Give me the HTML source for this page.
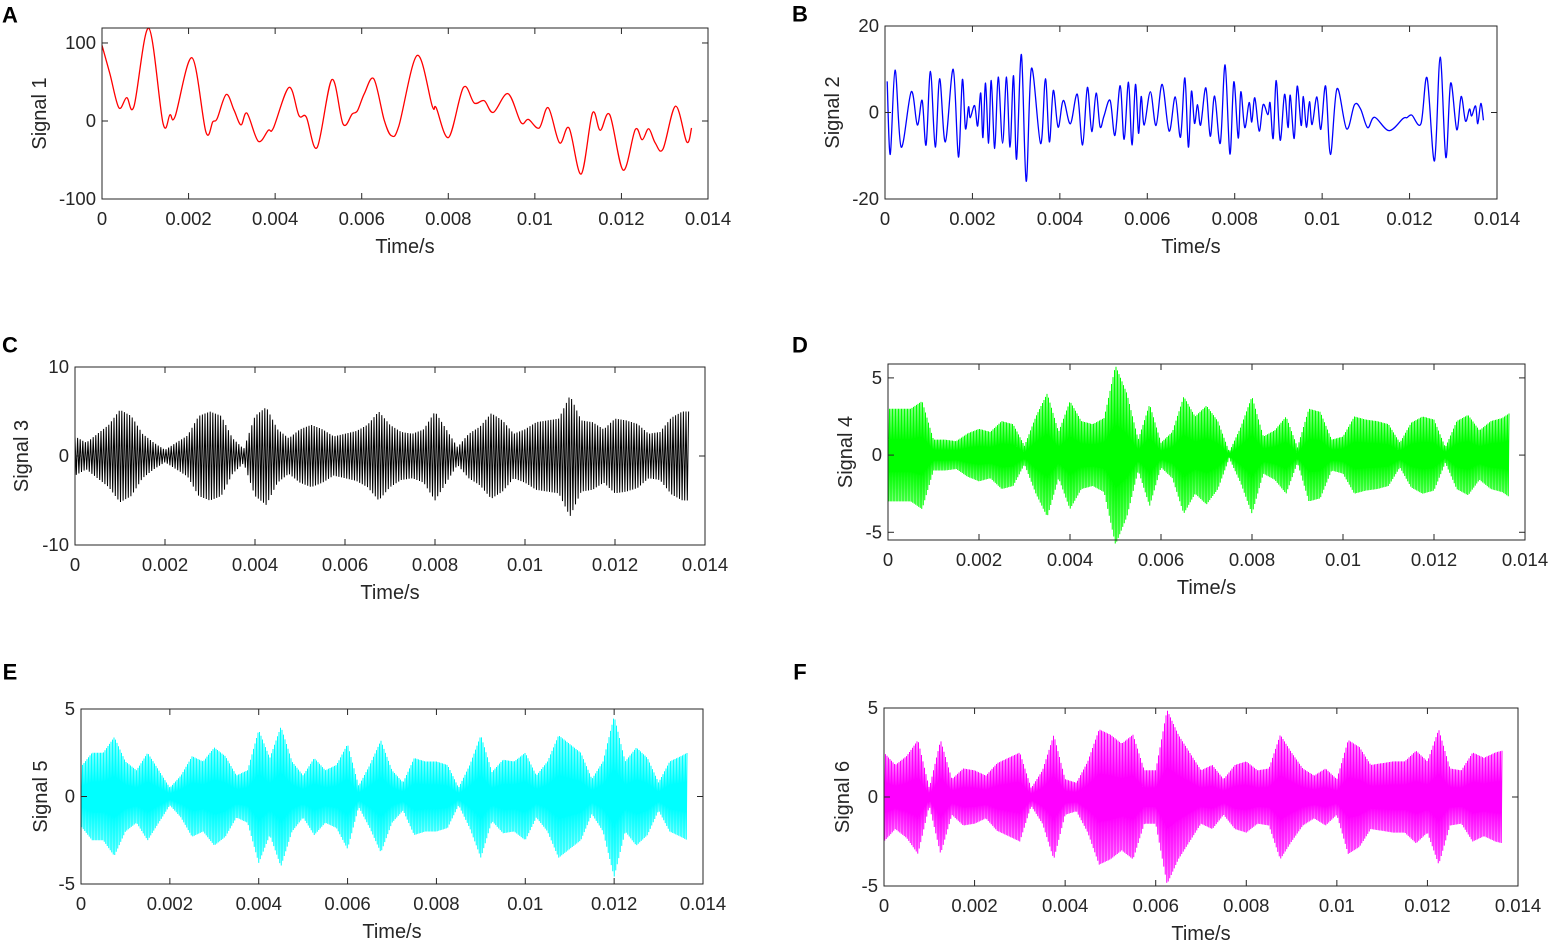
<!DOCTYPE html>
<html><head><meta charset="utf-8"><style>
body{margin:0;background:#fff;}
svg{display:block;font-family:"Liberation Sans",Arial,sans-serif;}
</style></head><body>
<svg id="fig" width="1549" height="942" viewBox="0 0 1549 942"></svg>
<script>
// ---- data (time in ms, value in signal units) ----
const s1T=[0,0.185,0.39,0.57,0.74,1.08,1.41,1.57,1.69,2.08,2.40,2.56,2.66,2.87,3.05,3.21,3.35,3.61,3.84,3.96,4.32,4.55,4.72,4.97,5.31,5.57,5.78,5.90,6.06,6.28,6.52,6.69,6.86,7.28,7.63,7.72,8.01,8.35,8.60,8.83,9.04,9.38,9.68,9.85,10.10,10.31,10.57,10.79,11.07,11.33,11.51,11.73,12.04,12.32,12.48,12.63,12.78,12.96,13.25,13.51,13.62];
const s1V=[97,60,17,30,19,119,-3,8,6,81,-14,-1,3,34,14,-5,10,-26,-12,-9,43,7,5,-34,53,-4,9,13,35,54,1,-19,-6,84,19,17,-21,43,23,26,11,35,-2,2,-9,17,-28,-9,-68,10,-12,8,-63,-11,-24,-10,-28,-36,19,-27,-9];
const s2T=[0.05,0.12,0.23,0.37,0.60,0.74,0.85,0.94,1.04,1.15,1.25,1.38,1.56,1.68,1.77,1.84,1.91,1.95,2.05,2.12,2.19,2.24,2.30,2.37,2.43,2.51,2.59,2.69,2.78,2.86,2.94,3.01,3.12,3.23,3.35,3.56,3.67,3.76,3.85,3.96,4.08,4.24,4.40,4.52,4.63,4.73,4.83,4.92,5.01,5.15,5.26,5.38,5.47,5.57,5.65,5.73,5.80,5.86,5.93,6.07,6.20,6.34,6.50,6.64,6.76,6.86,6.94,7.01,7.08,7.15,7.22,7.34,7.44,7.54,7.67,7.78,7.89,7.98,8.08,8.14,8.23,8.33,8.39,8.46,8.56,8.65,8.76,8.81,8.88,8.95,9.04,9.14,9.22,9.27,9.36,9.43,9.52,9.57,9.64,9.71,9.77,9.88,9.97,10.08,10.19,10.34,10.56,10.74,10.88,11.04,11.20,11.53,11.85,11.94,12.05,12.26,12.40,12.57,12.70,12.83,12.94,13.08,13.18,13.28,13.37,13.42,13.51,13.56,13.63,13.69];
const s2V=[7.2,-9.7,9.8,-8.0,4.8,-2.9,2.8,-7.5,9.5,-8.0,7.8,-6.8,10.0,-10.3,7.6,-3.7,1.3,-1.2,1.6,-3.1,4.5,-5.8,6.8,-7.1,7.4,-8.3,8.2,-7.1,8.2,-8.0,8.5,-10.8,13.4,-15.9,10.2,-7.2,7.8,-6.8,5.1,-3.4,2.8,-2.6,4.2,-7.5,5.8,-4.4,4.5,-3.3,-0.8,2.8,-5.3,6.2,-6.2,7.0,-7.5,6.5,-4.8,3.7,-2.9,4.8,-3.0,6.5,-4.3,3.6,-5.7,8.0,-8.0,4.9,-2.5,1.8,-2.9,5.7,-5.5,3.8,-7.1,11.0,-9.6,7.1,-5.9,4.8,-3.5,2.3,-2.2,3.4,-4.3,1.8,-0.5,2.2,-6.0,7.4,-6.4,4.2,-3.5,4.0,-6.0,6.1,-3.0,3.7,-3.4,2.5,-2.8,3.6,-3.9,6.1,-9.7,5.5,-3.8,1.8,0.8,-3.5,-1.1,-4.2,-1.4,-1.2,-0.6,-2.6,8.0,-11.2,12.8,-10.4,6.8,-4.0,3.7,-2.0,0.8,-0.8,1.5,-2.6,2.1,-1.8];
const envT=[0,0.25,0.5,0.75,1,1.25,1.5,1.75,2,2.25,2.5,2.75,3,3.25,3.5,3.75,4,4.25,4.5,4.75,5,5.25,5.5,5.75,6,6.25,6.5,6.75,7,7.25,7.5,7.75,8,8.25,8.5,8.75,9,9.25,9.5,9.75,10,10.25,10.5,10.75,11,11.25,11.5,11.75,12,12.25,12.5,12.75,13,13.25,13.5,13.65];
const s3Env=[2.2,1.5,2.5,3.5,5.2,4.5,2.5,1.5,0.7,1.5,2.3,4.5,5.0,4.5,2.0,0.8,4.5,5.5,3.0,2.0,3.0,3.5,3.0,2.2,2.5,2.8,3.5,5.0,3.5,2.7,2.5,3.0,5.0,3.0,1.0,2.5,3.3,4.8,4.0,2.5,3.0,3.8,4.0,4.2,6.8,4.0,3.8,3.0,4.2,4.0,3.6,2.5,2.7,4.3,5.0,5.0];
const s4Env=[3,3,3,3.5,1,1,0.9,1.4,1.7,1.5,2.2,2,0.6,2.5,4,1.5,3.5,2.2,2,2.4,5.8,4.0,1,3.3,0.8,1.5,3.8,2.5,3.2,2.2,0.2,1.8,3.8,1.2,1.6,2.5,0.5,3,2.8,1,1.2,2.5,2.3,2.2,2,0.8,2.1,2.5,2.3,0.5,2.2,2.6,1.6,2.2,2.4,2.7];
const s5Env=[1.7,2.5,2.5,3.4,2,1.5,2.5,1.5,0.5,1.2,2.3,2,2.8,2.3,1.2,1.5,3.8,2.2,4,2,1.2,2.2,1.5,1.8,3.0,0.6,1.8,3.2,1.5,0.8,2.2,2,2,1.8,0.5,1.8,3.5,1.4,2.1,2,2.5,1.2,2,3.5,3,2.5,1,2,4.6,2,2.8,2.2,0.8,2,2.3,2.5];
const s6Env=[2.5,1.8,2.3,3.2,0.5,3.2,1,1.6,1.5,1.2,1.9,2.2,2.5,0.5,1.5,3.5,1,0.8,2,3.8,3.5,3,3.5,1.5,1.5,4.9,3.5,2.5,1.5,1.8,1,1.8,2,1.5,1.6,3.5,2.5,1.6,1.2,1.6,1,3.2,2.8,1.8,1.9,2,2,2.6,2,3.8,1.6,1.5,2.5,2.2,2.5,2.6];
const xTickLabels=["0","0.002","0.004","0.006","0.008","0.01","0.012","0.014"];
const xTickVals=[0,2,4,6,8,10,12,14];

const NS="http://www.w3.org/2000/svg";
const svg=document.getElementById('fig');
function mk(tag,attrs,parent){const e=document.createElementNS(NS,tag);for(const k in attrs)e.setAttribute(k,attrs[k]);(parent||svg).appendChild(e);return e;}

const panels=[
 {id:'a',letter:'A',lx:10,ly:15,L:102,R:708,T:28,B:199,ymin:-100,ymax:119.2,yt:[-100,0,100],ylab:'Signal 1',ylx:40,color:'#ff0000',kind:'line',t:s1T,v:s1V},
 {id:'b',letter:'B',lx:800,ly:14,L:885,R:1497,T:26,B:199,ymin:-20,ymax:20,yt:[-20,0,20],ylab:'Signal 2',ylx:833,color:'#0000ff',kind:'line',t:s2T,v:s2V},
 {id:'c',letter:'C',lx:10,ly:345,L:75,R:705,T:367,B:545,ymin:-10,ymax:10,yt:[-10,0,10],ylab:'Signal 3',ylx:22,color:'#000000',kind:'zig',env:s3Env,step:1.3,sw:1},
 {id:'d',letter:'D',lx:800,ly:345,L:888,R:1525,T:364,B:540,ymin:-5.5,ymax:5.9,yt:[-5,0,5],ylab:'Signal 4',ylx:846,color:'#00ff00',kind:'zig',env:s4Env,step:0.75,sw:1},
 {id:'e',letter:'E',lx:10,ly:672,L:81,R:703,T:709,B:884,ymin:-5,ymax:5,yt:[-5,0,5],ylab:'Signal 5',ylx:41,color:'#00ffff',kind:'zig',env:s5Env,step:0.75,sw:1},
 {id:'f',letter:'F',lx:800,ly:672,L:884,R:1518,T:708,B:886,ymin:-5,ymax:5,yt:[-5,0,5],ylab:'Signal 6',ylx:843,color:'#ff00ff',kind:'zig',env:s6Env,step:0.75,sw:1}
];

function catmull(pts){
 let d='M'+pts[0][0].toFixed(2)+','+pts[0][1].toFixed(2);
 for(let i=0;i<pts.length-1;i++){
  const p0=pts[Math.max(0,i-1)],p1=pts[i],p2=pts[i+1],p3=pts[Math.min(pts.length-1,i+2)];
  const c1x=p1[0]+(p2[0]-p0[0])/6,c1y=p1[1]+(p2[1]-p0[1])/6;
  const c2x=p2[0]-(p3[0]-p1[0])/6,c2y=p2[1]-(p3[1]-p1[1])/6;
  d+=' C'+c1x.toFixed(2)+','+c1y.toFixed(2)+' '+c2x.toFixed(2)+','+c2y.toFixed(2)+' '+p2[0].toFixed(2)+','+p2[1].toFixed(2);
 }
 return d;
}
function envAt(env,t){
 if(t<=envT[0])return env[0];
 for(let i=0;i<envT.length-1;i++){if(t<=envT[i+1]){const f=(t-envT[i])/(envT[i+1]-envT[i]);return env[i]+(env[i+1]-env[i])*f;}}
 return env[env.length-1];
}

panels.forEach(p=>{
 const g=mk('g',{});
 
 
 const xs=t=>p.L+(t/14)*(p.R-p.L);
 const ys=v=>p.B-(v-p.ymin)/(p.ymax-p.ymin)*(p.B-p.T);
 if(p.kind==='line'){
  const pts=p.t.map((t,i)=>[xs(t),ys(p.v[i])]);
  const path=mk('path',{d:catmull(pts),fill:'none',stroke:p.color,'stroke-width':1.3},g);
  
  
 } else {
  const tEnd=envT[envT.length-1];
  const x0=xs(0),x1=xs(tEnd);let d='';let k=0;
  for(let x=x0;x<=x1;x+=p.step,k++){const t=(x-p.L)/(p.R-p.L)*14;const a=envAt(p.env,t);const y=ys(k%2?-a:a);d+=(k?'L':'M')+x.toFixed(2)+','+y.toFixed(2);}
  const path=mk('path',{d:d,fill:'none',stroke:p.color,'stroke-width':p.sw},g);
  
  
 }
 const box=mk('rect',{x:p.L,y:p.T,width:p.R-p.L,height:p.B-p.T,fill:'none',stroke:'#262626','stroke-width':1},g);
 
 
 xTickVals.forEach((v,i)=>{
  const x=xs(v);
  mk('line',{x1:x,x2:x,y1:p.B,y2:p.B-6,stroke:'#262626','stroke-width':1},g);
  mk('line',{x1:x,x2:x,y1:p.T,y2:p.T+6,stroke:'#262626','stroke-width':1},g);
  const tl=mk('text',{x:x,y:p.B+26,'text-anchor':'middle','font-size':18.5,fill:'#262626'},g);
  tl.textContent=xTickLabels[i];
  
  
 });
 p.yt.forEach(v=>{
  const y=ys(v);
  mk('line',{x1:p.L,x2:p.L+6,y1:y,y2:y,stroke:'#262626','stroke-width':1},g);
  mk('line',{x1:p.R,x2:p.R-6,y1:y,y2:y,stroke:'#262626','stroke-width':1},g);
  const tl=mk('text',{x:p.L-6,y:y+6,'text-anchor':'end','font-size':18.5,fill:'#262626'},g);
  tl.textContent=String(v);
  
  
 });
 const xl=mk('text',{x:(p.L+p.R)/2,y:p.B+54,'text-anchor':'middle','font-size':20,fill:'#262626'},g);
 xl.textContent='Time/s';
 
 
 const cy=(p.T+p.B)/2;
 const yl=mk('text',{x:p.ylx,y:cy,'text-anchor':'middle','dominant-baseline':'central','font-size':20,fill:'#262626',transform:'rotate(-90 '+p.ylx+' '+cy+')'},g);
 yl.textContent=p.ylab;
 
 
 const lt=mk('text',{x:p.lx,y:p.ly,'text-anchor':'middle','dominant-baseline':'central','font-size':22,'font-weight':'bold',fill:'#000'},g);
 lt.textContent=p.letter;
 
 
});
</script>
</body></html>
